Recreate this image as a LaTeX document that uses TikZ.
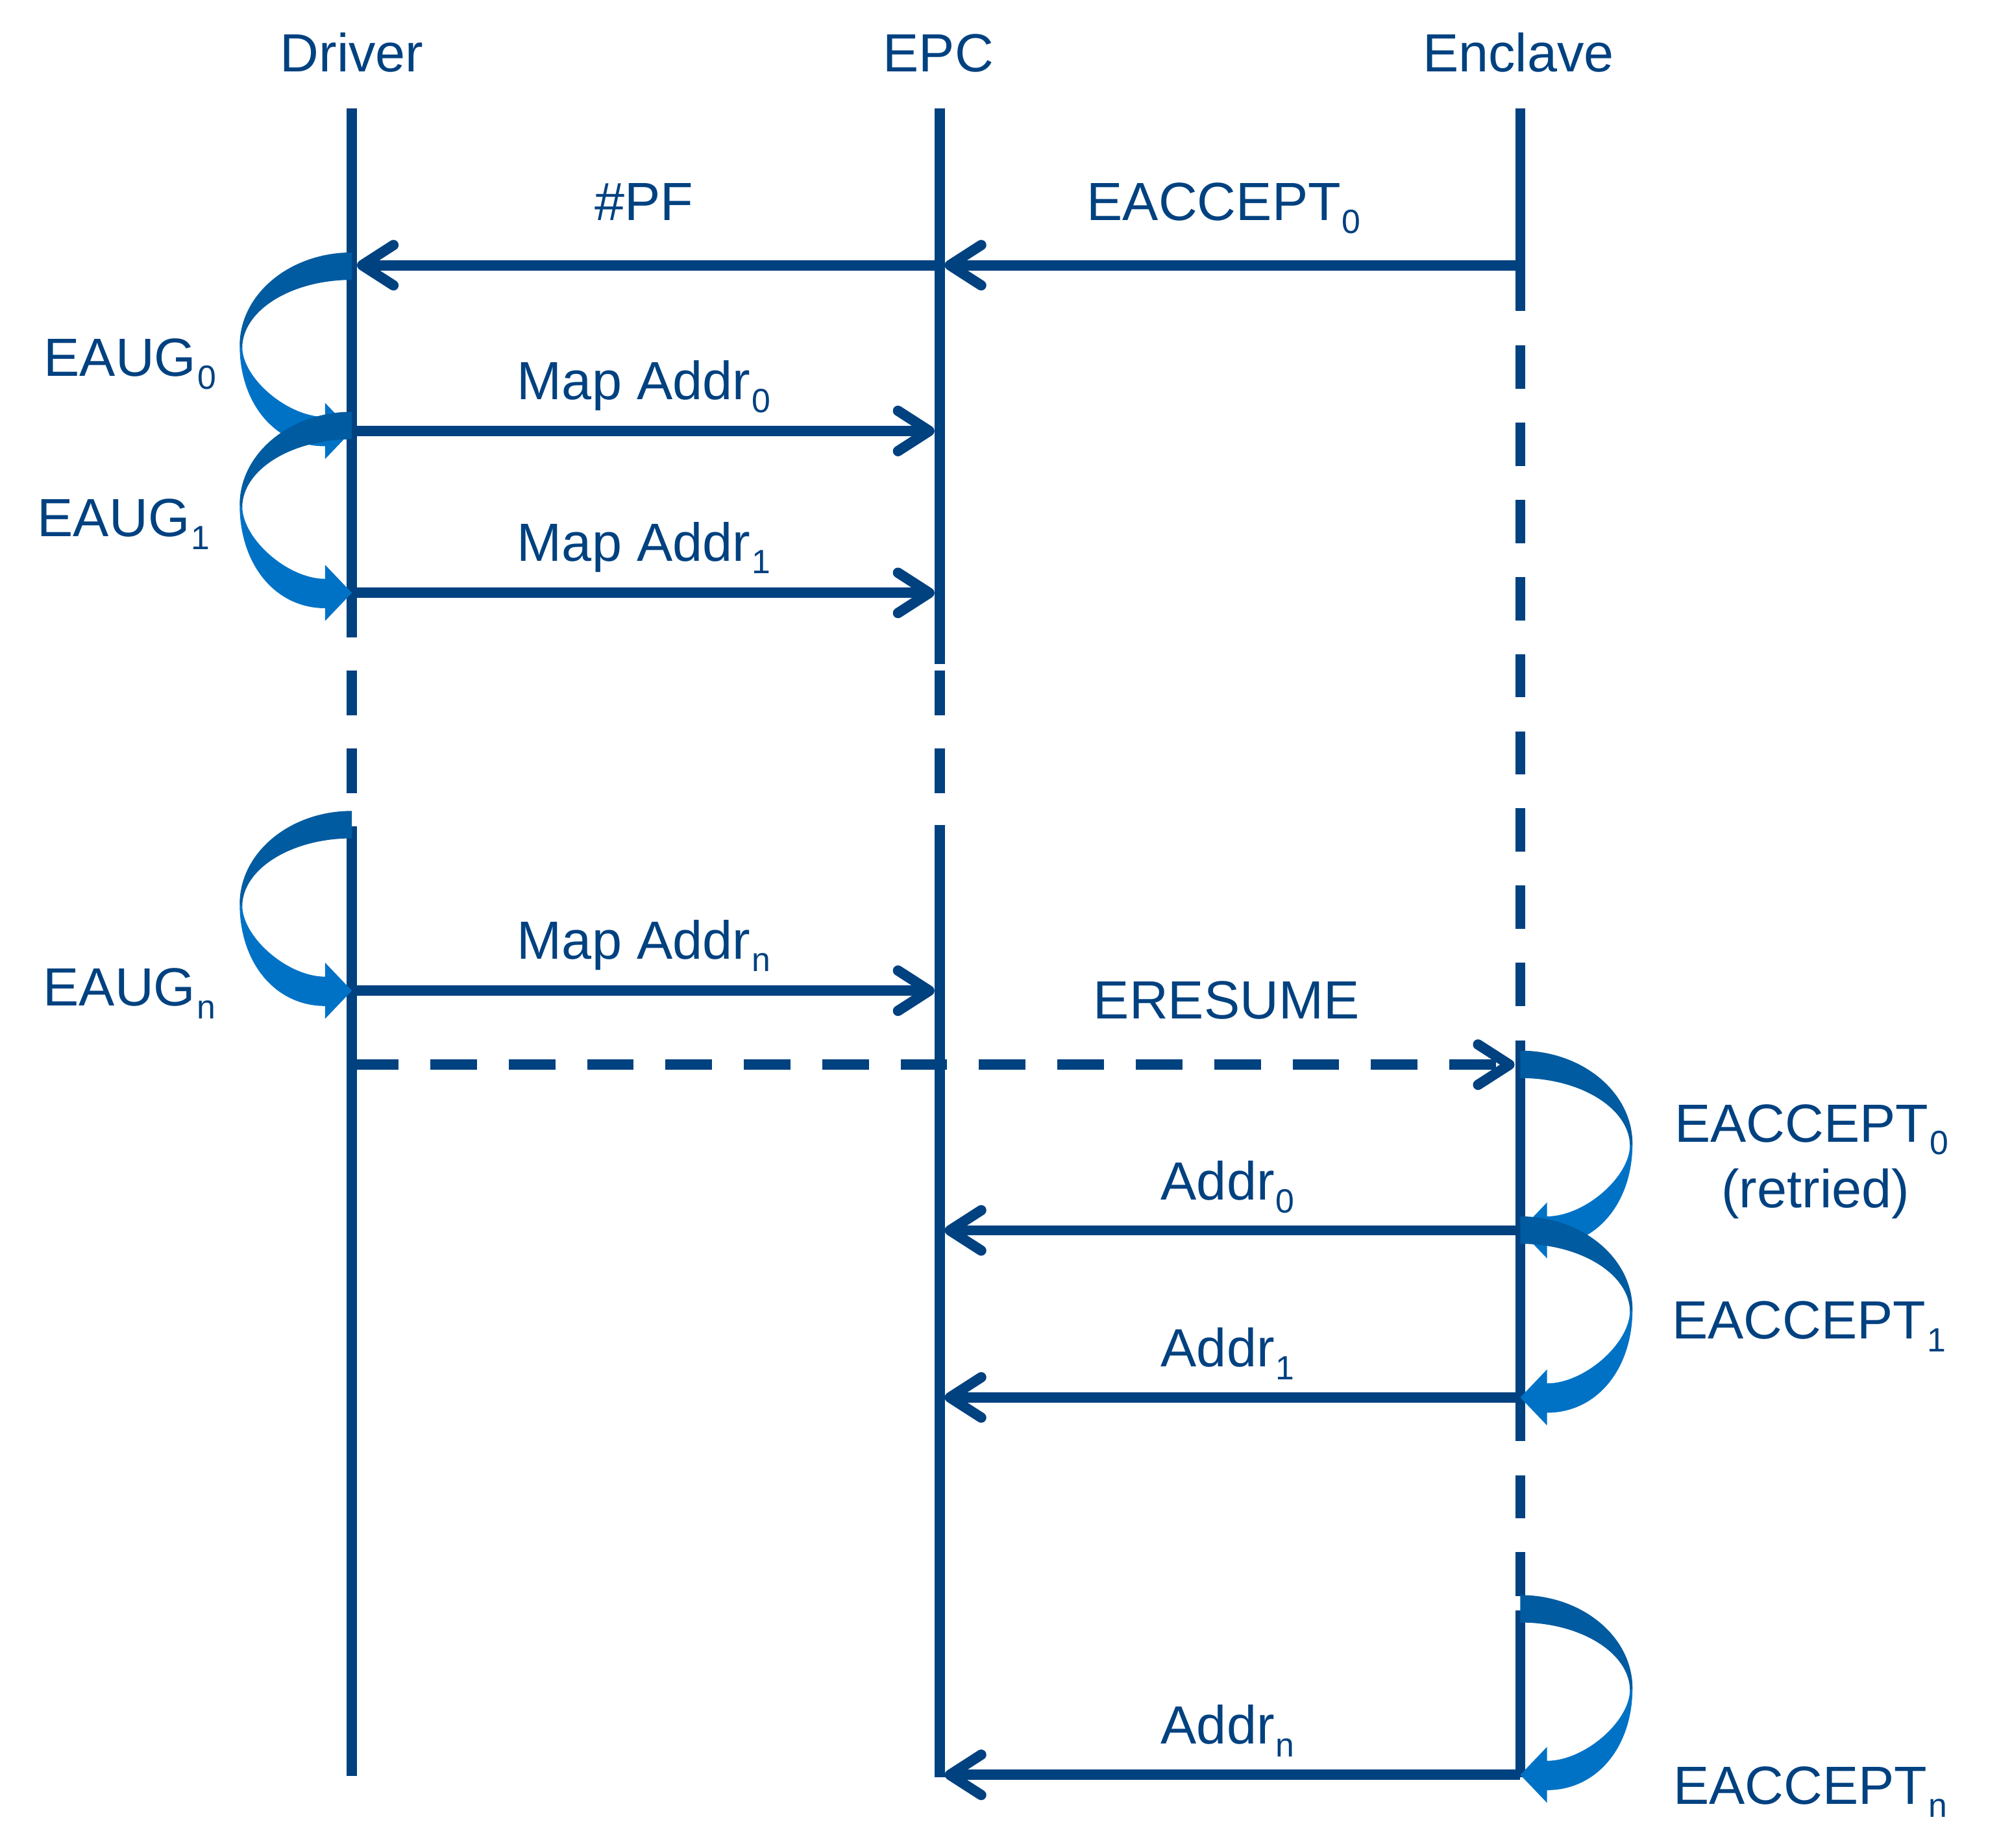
\documentclass[tikz,border=0pt]{standalone}
\usepackage{fontspec}
\setmainfont{Liberation Sans}
\usetikzlibrary{arrows.meta}
\definecolor{lineblue}{RGB}{0,65,128}
\definecolor{ribdark}{RGB}{0,91,160}
\definecolor{riblight}{RGB}{0,114,198}
\newcommand\sbs[1]{\kern0.6pt\raisebox{-5.7pt}{\fontsize{15}{15}\selectfont #1}}
\newcommand\ribbon[4]{%
 \pgfmathsetmacro\rL{#1}\pgfmathsetmacro\rt{#2}\pgfmathsetmacro\rb{#3}\pgfmathsetmacro\rd{#4}%
 \fill[riblight] ({\rL+(\rd)*88},{\rt+73}) .. controls ({\rL+(\rd)*88},{\rt+73+0.58*(\rb+12-\rt-73)}) and ({\rL+(\rd)*(21+0.58*67)},{\rb+12}) .. ({\rL+(\rd)*21},{\rb+12})
   -- ({\rL+(\rd)*21},{\rb+22}) -- (\rL,\rb) -- ({\rL+(\rd)*21},{\rb-22}) -- ({\rL+(\rd)*21},{\rb-11})
   .. controls ({\rL+(\rd)*(21+0.45*65)},{\rb-11}) and ({\rL+(\rd)*86},{\rt+74+0.45*(\rb-11-\rt-74)}) .. ({\rL+(\rd)*86},{\rt+74}) -- cycle;
 \fill[ribdark] (\rL,\rt) .. controls ({\rL+(\rd)*0.552*88},\rt) and ({\rL+(\rd)*88},{\rt+73-0.552*73}) .. ({\rL+(\rd)*88},{\rt+73})
   -- ({\rL+(\rd)*86},{\rt+75}) .. controls ({\rL+(\rd)*86},{\rt+75-0.552*53.5}) and ({\rL+(\rd)*0.552*86},{\rt+21.5}) .. (\rL,{\rt+21.5}) -- cycle;
}
\tikzset{
 life/.style={draw=lineblue, line width=4.6pt},
 msg/.style={draw=lineblue, line width=4.6pt, -{Straight Barb[length=14pt,width=18pt,round]}},
 dmsg/.style={msg, dash pattern=on 20.8pt off 14.2pt},
 lbl/.style={text=lineblue, font=\fontsize{24}{29}\selectfont, inner sep=0pt, anchor=base},
}
\begin{document}
\begin{tikzpicture}[x=0.02cm,y=-0.02cm]
\useasboundingbox (0,0) rectangle (1568,1449);
% lifelines
\draw[life] (276,85) -- (276,500);
\draw[life] (276,526) -- (276,561);
\draw[life] (276,587) -- (276,622);
\draw[life] (276,648) -- (276,1393);
\draw[life] (737,85) -- (737,521);
\draw[life] (737,526) -- (737,561);
\draw[life] (737,587) -- (737,622);
\draw[life] (737,647) -- (737,1394);
\draw[life] (1192.5,85) -- (1192.5,244);
\foreach \i in {0,...,8} {\draw[life] (1192.5,{271+60.5*\i}) -- (1192.5,{305+60.5*\i});}
\draw[life] (1192.5,816) -- (1192.5,1130);
\draw[life] (1192.5,1157) -- (1192.5,1191);
\draw[life] (1192.5,1217) -- (1192.5,1252);
\draw[life] (1192.5,1263) -- (1192.5,1394);
% message endpoints
\coordinate (pfS) at (737,208);   \coordinate (pfE) at (280,208);
\coordinate (ea0S) at (1192.5,208); \coordinate (ea0E) at (741,208);
\coordinate (m0S) at (276,338);  \coordinate (m0E) at (733,338);
\coordinate (m1S) at (276,465);  \coordinate (m1E) at (733,465);
\coordinate (mnS) at (276,777);  \coordinate (mnE) at (733,777);
\coordinate (erS) at (276,835);  \coordinate (erE) at (1188,835);
\coordinate (a0S) at (1192.5,965);  \coordinate (a0E) at (741,965);
\coordinate (a1S) at (1192.5,1096); \coordinate (a1E) at (741,1096);
\coordinate (anS) at (1192.5,1392); \coordinate (anE) at (741,1392);
\draw[msg] (pfS) -- (pfE);
\draw[msg] (ea0S) -- (ea0E);
\draw[msg] (m0S) -- (m0E);
\draw[msg] (m1S) -- (m1E);
\draw[msg] (mnS) -- (mnE);
\draw[dmsg] (erS) -- (erE);
\draw[msg] (a0S) -- (a0E);
\draw[msg] (a1S) -- (a1E);
\draw[msg] (anS) -- (anE);
% self arrows
\ribbon{276}{198}{338}{-1}
\ribbon{276}{323}{465}{-1}
\ribbon{276}{636}{777}{-1}
\ribbon{1192.5}{824}{965}{1}
\ribbon{1192.5}{954}{1096}{1}
\ribbon{1192.5}{1251}{1392}{1}
% labels
\node[lbl] (tD) at (276,56.5) {Driver};
\node[lbl] (tE) at (736,56.5) {EPC};
\node[lbl] (tN) at (1191,56.5) {Enclave};
\node[lbl] (lpf) at (505,173) {\#PF};
\node[lbl] (lea0) at (960,173) {EACCEPT\sbs{0}};
\node[lbl] (lg0) at (102,295) {EAUG\sbs{0}};
\node[lbl] (lm0) at (505,313.6) {Map Addr\sbs{0}};
\node[lbl] (lg1) at (97,421) {EAUG\sbs{1}};
\node[lbl] (lm1) at (505,440) {Map Addr\sbs{1}};
\node[lbl] (lmn) at (505,752) {Map Addr\sbs{n}};
\node[lbl] (lgn) at (101.5,789) {EAUG\sbs{n}};
\node[lbl] (ler) at (962,799) {ERESUME};
\node[lbl] (lx0) at (1421,895.6) {EACCEPT\sbs{0}};
\node[lbl] (lret) at (1424,947) {(retried)};
\node[lbl] (la0) at (963,941) {Addr\sbs{0}};
\node[lbl] (lx1) at (1419,1050) {EACCEPT\sbs{1}};
\node[lbl] (la1) at (963,1072) {Addr\sbs{1}};
\node[lbl] (lan) at (963,1367.6) {Addr\sbs{n}};
\node[lbl] (lxn) at (1420,1415) {EACCEPT\sbs{n}};
\end{tikzpicture}
\end{document}
